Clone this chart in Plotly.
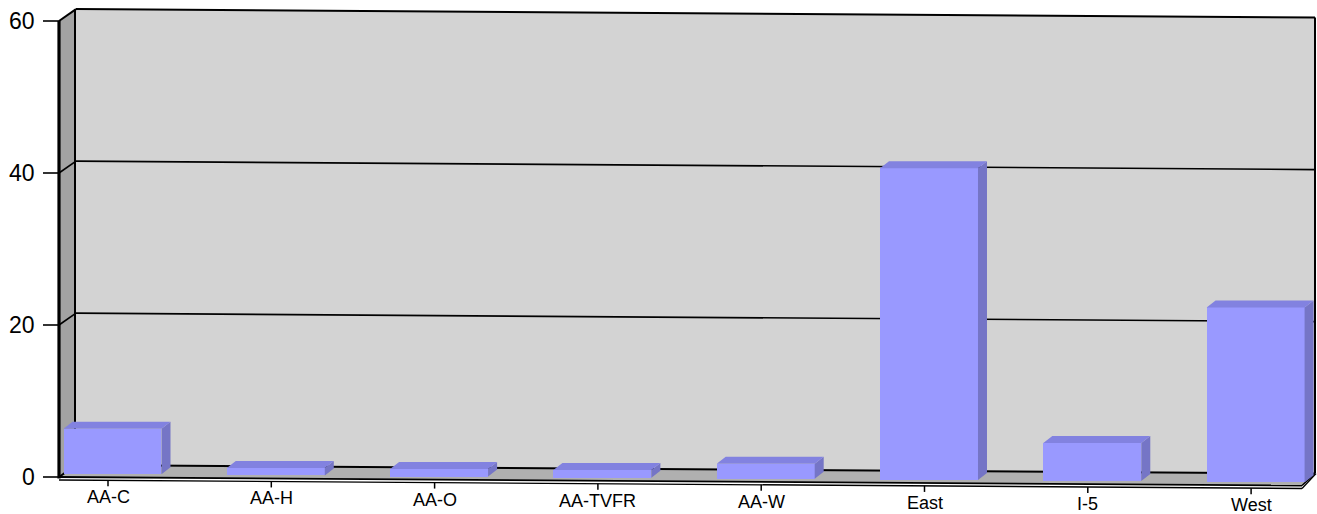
import plotly.graph_objects as go

# ---- data ----
categories = ["AA-C", "AA-H", "AA-O", "AA-TVFR", "AA-W", "East", "I-5", "West"]
values = [6, 1, 1, 1, 2, 41, 5, 23]
y_ticks = [0, 20, 40, 60]
y_tick_labels = ["0", "20", "40", "60"]

# ---- geometry (page pixels) ----
PAGE_W, PAGE_H = 1317, 514
X0, DXP = 108.0, 163.3        # pixel of first category centre, px per category
Y0, PPU = 477.0, 7.6          # pixel of value 0 (front-left), px per unit
SLOPE = 8.5 / 1240.0          # slight perspective tilt
FL, BL, BR, FR = 59, 76, 1315, 1302
DEPTH = 12                    # wall depth (px, vertical)
BAR_W = 0.6
BAR_OFF = 4.5 / DXP
BDX, BDY = 9.0, 7.0           # bar depth (px)


def xd(p):
    return (p - X0) / DXP


def yd(q):
    return (Y0 - q) / PPU


def tilt(p):
    return SLOPE * (p - FL)


def qv(v, p, back=False):
    """pixel y of value v at pixel x p on front/back plane"""
    return Y0 - v * PPU + tilt(p) - (DEPTH if back else 0)


def path(pts):
    return "M " + " L ".join(f"{xd(p):.5f},{yd(q):.5f}" for p, q in pts) + " Z"


shapes = []
# back wall
shapes.append(dict(type="path", xref="x", yref="y", layer="below",
                   path=path([(BL, qv(0, BL, True)), (BL, qv(60, BL, True)),
                              (BR, qv(60, BR, True)), (BR, qv(0, BR, True))]),
                   fillcolor="#D3D3D3", line=dict(width=0)))
# left wall
shapes.append(dict(type="path", xref="x", yref="y", layer="below",
                   path=path([(FL, qv(0, FL)), (FL, qv(60, FL)),
                              (BL, qv(60, BL, True)), (BL, qv(0, BL, True))]),
                   fillcolor="#A3A3A3", line=dict(width=0)))
# floor
shapes.append(dict(type="path", xref="x", yref="y", layer="below",
                   path=path([(FL, qv(0, FL)), (BL, qv(0, BL, True)),
                              (BR, qv(0, BR, True)), (FR, qv(0, FR))]),
                   fillcolor="#B0B0B0", line=dict(width=0)))


def seg(p1, q1, p2, q2, w=1.6, layer="below"):
    shapes.append(dict(type="line", xref="x", yref="y", layer=layer,
                       x0=xd(p1), y0=yd(q1), x1=xd(p2), y1=yd(q2),
                       line=dict(color="black", width=w)))


# gridlines (back wall + left wall diagonals) and y tick marks
for v in y_ticks:
    w = 2 if v in (0, 60) else 1.6
    seg(BL, qv(v, BL, True), BR, qv(v, BR, True), w)
    seg(FL, qv(v, FL), BL, qv(v, BL, True), w)
    seg(43, qv(v, FL), FL, qv(v, FL), 1.6)
# wall edges
seg(FL, qv(0, FL) + 1.5, FL, qv(60, FL), 3.2)
seg(BL - 1, qv(0, BL, True), BL - 1, qv(60, BL, True), 2)
seg(BR, qv(0, BR, True), BR, qv(60, BR, True), 2)
# floor front edge (double line) and right diagonal
seg(FL, qv(0, FL), FR, qv(0, FR), 1.8)
seg(FL, qv(0, FL) + 3, FR, qv(0, FR) + 3, 1.4)
seg(FR, qv(0, FR), BR, qv(0, BR, True), 1.6)
seg(FR, qv(0, FR) + 3, BR + 1, qv(0, BR, True), 1.4)

# x tick marks
for i, _ in enumerate(categories):
    p = X0 + DXP * i
    seg(p, qv(0, p) + 3, p, qv(0, p) + 9, 1.5)

# ---- bars ----
xs = [i + BAR_OFF for i in range(len(categories))]
bases = []
for i, x in enumerate(xs):
    cx = X0 + DXP * x
    bases.append((3.0 - tilt(cx)) / PPU)

fig = go.Figure()
fig.add_trace(go.Bar(x=xs, y=values, base=bases, width=BAR_W,
                     marker=dict(color="#9999FF", line=dict(width=0)),
                     hoverinfo="skip", showlegend=False))

ddx, ddy = BDX / DXP, BDY / PPU
top_x, top_y, side_x, side_y = [], [], [], []
for x, b, v in zip(xs, bases, values):
    L, R = x - BAR_W / 2, x + BAR_W / 2
    t = b + v
    top_x += [L, R, R + ddx, L + ddx, L, None]
    top_y += [t, t, t + ddy, t + ddy, t, None]
    side_x += [R, R, R + ddx, R + ddx, R, None]
    side_y += [b, t, t + ddy, b + ddy, b, None]

fig.add_trace(go.Scatter(x=side_x, y=side_y, mode="lines", fill="toself",
                         fillcolor="#7575C6", line=dict(width=0, color="#7575C6"),
                         hoverinfo="skip", showlegend=False))
fig.add_trace(go.Scatter(x=top_x, y=top_y, mode="lines", fill="toself",
                         fillcolor="#8282E0", line=dict(width=0, color="#8282E0"),
                         hoverinfo="skip", showlegend=False))

# ---- labels ----
annotations = []
for v, lab in zip(y_ticks, y_tick_labels):
    annotations.append(dict(x=xd(37), y=yd(qv(v, FL)), xref="x", yref="y",
                            text=lab, showarrow=False, xanchor="right", yanchor="middle",
                            font=dict(family="Liberation Sans, Arial", size=23, color="black")))
for i, lab in enumerate(categories):
    p = X0 + DXP * i
    annotations.append(dict(x=i, y=yd(497 + tilt(p)), xref="x", yref="y",
                            text=lab, showarrow=False, xanchor="center", yanchor="middle",
                            font=dict(family="Liberation Sans, Arial", size=18, color="black")))

fig.update_layout(
    width=PAGE_W, height=PAGE_H,
    margin=dict(l=0, r=0, t=0, b=0),
    paper_bgcolor="white", plot_bgcolor="white",
    shapes=shapes, annotations=annotations,
    xaxis=dict(range=[xd(0), xd(PAGE_W)], visible=False, fixedrange=True),
    yaxis=dict(range=[yd(PAGE_H), yd(0)], visible=False, fixedrange=True),
    bargap=0, showlegend=False, hovermode=False,
)

fig.write_html(
    "out.html",
    config={"displayModeBar": False, "staticPlot": True},
    post_script="document.body.style.margin='0';document.body.style.overflow='hidden';",
)
